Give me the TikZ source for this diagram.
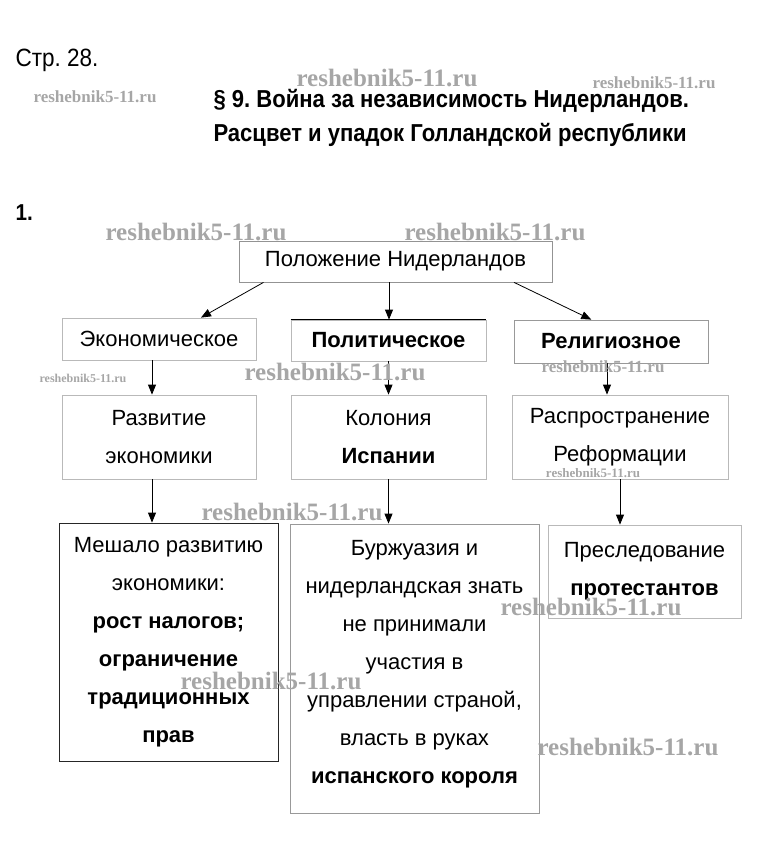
\documentclass[tikz,border=0pt]{standalone}
\usepackage{fontspec}
\setmainfont{Liberation Sans}
\newfontfamily\narrowfont[FakeStretch=0.9]{Liberation Sans}
\newfontfamily\wmfont{Liberation Serif}
\usetikzlibrary{arrows.meta}
\frenchspacing

\tikzset{
  box/.style={draw=gray!55, line width=0.8pt, inner sep=0pt, align=center,
    font=\fontsize{22}{38}\selectfont},
  boldbox/.style={box, font=\bfseries\fontsize{22}{38}\selectfont},
  arr/.style={line width=0.8pt, -{Triangle[length=10pt,width=8pt]}},
  wmbig/.style={text=gray!70, font=\wmfont\bfseries\fontsize{25}{25}\selectfont},
  wmsmall/.style={text=gray!70, font=\wmfont\bfseries\fontsize{17}{17}\selectfont},
}

\begin{document}
\begin{tikzpicture}[x=1pt, y=-1pt]
  \useasboundingbox (0,0) rectangle (759,862);

  % heading
  \node[anchor=west, font=\narrowfont\fontsize{25}{25}\selectfont] (page) at (12,60) {Стр. 28.};
  \node[anchor=west, font=\narrowfont\bfseries\fontsize{24.5}{24.5}\selectfont] (title1) at (210,101)
    {§ 9. Война за независимость Нидерландов.};
  \node[anchor=west, font=\narrowfont\bfseries\fontsize{24.5}{24.5}\selectfont] (title2) at (210,135)
    {Расцвет и упадок Голландской республики};
  \node[anchor=west, font=\narrowfont\bfseries\fontsize{23}{23}\selectfont] (num) at (12,213) {1.};

  % boxes
  \node[box, draw=gray!85, minimum width=313, minimum height=41] (pos) at (395.5,261.5)
    {Положение Нидерландов};
  \node[box, minimum width=194, minimum height=42] (econ) at (159,339) {Экономическое};
  \node[boldbox, minimum width=195, minimum height=41] (pol) at (388.5,340.5) {Политическое};
  \node[boldbox, draw=gray!80, minimum width=194, minimum height=43] (rel) at (611,341.5) {Религиозное};
  \draw[line width=0.8pt] (pol.north west) -- (pol.north east);

  \node[box, minimum width=194, minimum height=84] (dev) at (159,437) {Развитие\\экономики};
  \node[box, minimum width=195, minimum height=84] (col) at (388.5,437) {Колония\\\textbf{Испании}};
  \node[box, minimum width=216, minimum height=84] (ref) at (620,437) {Распространение\\Реформации};

  \node[box, draw=black!85, minimum width=219, minimum height=238] (hind) at (168.5,642)
    {Мешало развитию\\экономики:\\\textbf{рост налогов;}\\\textbf{ограничение}\\\textbf{традиционных}\\\textbf{прав}};
  \node[box, draw=gray!80, minimum width=249, minimum height=289] (bourg) at (414.5,668.5)
    {Буржуазия и\\нидерландская знать\\не принимали\\участия в\\управлении страной,\\власть в руках\\\textbf{испанского короля}\\[-24pt]};
  \node[box, minimum width=193, minimum height=93] (pers) at (644.5,571.5)
    {Преследование\\\textbf{протестантов}};

  % arrows
  \draw[arr] (pos.189) -- (econ.27);
  \draw[arr] ([xshift=-6.5pt]pos.south) -- ([xshift=-6.5pt]pos.south |- pol.north);
  \draw[arr] (pos.350) -- (rel.132);
  \draw[arr] ([xshift=-7pt]econ.south) -- ([xshift=-7pt]dev.north);
  \draw[arr] (pol.south) -- (col.north);
  \draw[arr] ([xshift=-4pt]rel.south) -- ([xshift=-4pt]rel.south |- ref.north);
  \draw[arr] ([xshift=-7pt]dev.south) -- ([xshift=-7pt]dev.south |- hind.north);
  \draw[arr] (col.south) -- (col.south |- bourg.north);
  \draw[arr] (ref.south) -- (ref.south |- pers.north);

  % watermarks
  \node[wmbig] (wm1) at (387,78) {reshebnik5-11.ru};
  \node[wmsmall] (wm2) at (654,83) {reshebnik5-11.ru};
  \node[wmsmall] (wm3) at (95,97) {reshebnik5-11.ru};
  \node[wmbig] (wm4) at (196,232) {reshebnik5-11.ru};
  \node[wmbig] (wm5) at (495,232) {reshebnik5-11.ru};
  \node[wmsmall, font=\wmfont\bfseries\fontsize{12}{12}\selectfont] (wm6) at (83,378) {reshebnik5-11.ru};
  \node[wmbig] (wm7) at (335,372) {reshebnik5-11.ru};
  \node[wmsmall] (wm8) at (603,367) {reshebnik5-11.ru};
  \node[wmsmall, font=\wmfont\bfseries\fontsize{13}{13}\selectfont] (wm9) at (593,473) {reshebnik5-11.ru};
  \node[wmbig] (wm10) at (292,512) {reshebnik5-11.ru};
  \node[wmbig] (wm11) at (591,607) {reshebnik5-11.ru};
  \node[wmbig] (wm12) at (271,681) {reshebnik5-11.ru};
  \node[wmbig] (wm13) at (628,747) {reshebnik5-11.ru};
\end{tikzpicture}
\end{document}
